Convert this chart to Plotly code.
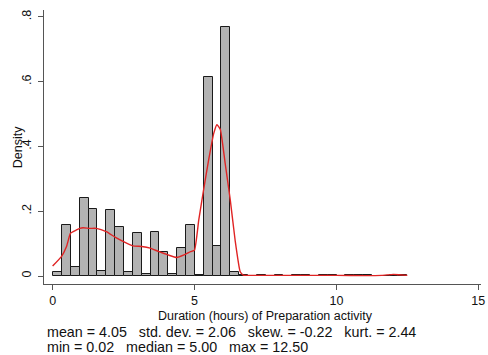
import plotly.graph_objects as go

# ---- data ----
bin_start = 0.02
bin_width = 0.312
density = [0.013, 0.156, 0.027, 0.240, 0.207, 0.016, 0.205, 0.151, 0.011, 0.132,
           0.006, 0.137, 0.075, 0.006, 0.087, 0.158, 0.002, 0.613, 0.094, 0.768,
           0.012, 0.002, 0.000, 0.002, 0.000, 0.002, 0.000, 0.002, 0.002, 0.000,
           0.002, 0.002, 0.000, 0.002, 0.002, 0.002, 0.000, 0.000, 0.002, 0.002]

kde_x = [0.0, 0.31, 0.49, 0.63, 0.84, 0.96, 1.07, 1.31, 1.54, 1.89, 2.2, 2.5, 2.82,
         3.14, 3.44, 3.75, 4.07, 4.37, 4.63, 4.86, 5.0, 5.15, 5.33, 5.5, 5.68, 5.79,
         5.91, 6.08, 6.26, 6.43, 6.61, 6.72, 7.0, 8.0, 9.0, 10.0, 11.0, 11.6, 12.0,
         12.2, 12.5]
kde_y = [0.031, 0.060, 0.091, 0.132, 0.142, 0.147, 0.149, 0.147, 0.147, 0.137, 0.120,
         0.106, 0.093, 0.091, 0.086, 0.075, 0.065, 0.057, 0.065, 0.075, 0.080, 0.173,
         0.271, 0.359, 0.441, 0.467, 0.452, 0.348, 0.235, 0.111, 0.013, 0.003, 0.002,
         0.002, 0.002, 0.002, 0.001, 0.002, 0.005, 0.004, 0.002]

x_ticks = [0, 5, 10, 15]
y_ticks = [0, 0.2, 0.4, 0.6, 0.8]
y_ticklabels = ["0", ".2", ".4", ".6", ".8"]

x_title = "Duration (hours) of Preparation activity"
y_title = "Density"
note_lines = ["mean = 4.05   std. dev. = 2.06   skew. = -0.22   kurt. = 2.44",
              "min = 0.02   median = 5.00   max = 12.50"]

# ---- figure ----
centers = [bin_start + bin_width * (i + 0.5) for i in range(len(density))]
FONT = "Liberation Sans, Arial, sans-serif"
W, H = 488, 355
L, R, T, B = 44, 3, 10, 71
pw, ph = W - L - R, H - T - B

fig = go.Figure()
fig.add_trace(go.Bar(x=centers, y=density, width=bin_width,
                     marker=dict(color="#b3b3b3", line=dict(color="#1a1a1a", width=1)),
                     hoverinfo="skip"))
fig.add_trace(go.Scatter(x=kde_x, y=kde_y, mode="lines",
                         line=dict(color="#e02424", width=1.4, shape="spline", smoothing=0.4),
                         hoverinfo="skip"))

def px_to_paper_x(p):
    return (p - L) / pw

def px_to_paper_y(p):
    return (H - B - p) / ph

annotations = [
    dict(text=x_title, x=px_to_paper_x(268), y=px_to_paper_y(316), xref="paper", yref="paper",
         xanchor="center", yanchor="middle", showarrow=False, font=dict(size=12.5, color="#111")),
    dict(text=y_title, x=px_to_paper_x(18), y=px_to_paper_y(147), xref="paper", yref="paper",
         xanchor="center", yanchor="middle", textangle=-90, showarrow=False,
         font=dict(size=12.5, color="#111")),
]
for i, line in enumerate(note_lines):
    annotations.append(dict(text=line, x=px_to_paper_x(45), y=px_to_paper_y(332 + 14.5 * i),
                            xref="paper", yref="paper", xanchor="left", yanchor="middle",
                            showarrow=False, font=dict(size=14.3, color="#111")))

fig.update_layout(
    width=W, height=H, margin=dict(l=L, r=R, t=T, b=B, pad=0),
    paper_bgcolor="white", plot_bgcolor="white", showlegend=False,
    bargap=0, font=dict(family=FONT, size=12, color="#111"),
    annotations=annotations,
    xaxis=dict(range=[-0.304, 15.096], tickvals=x_ticks, ticks="outside", ticklen=5,
               tickcolor="#555", showline=True, linecolor="#555", linewidth=1,
               showgrid=False, zeroline=False, ticklabeloverflow="allow",
               tickfont=dict(size=12.5, color="#111")),
    yaxis=dict(range=[-0.0247, 0.821], tickvals=y_ticks, ticktext=y_ticklabels,
               ticks="outside", ticklen=5, tickcolor="#555", showline=True,
               linecolor="#555", linewidth=1, showgrid=False, zeroline=False,
               tickangle=-90, ticklabelstandoff=2, tickfont=dict(size=12.5, color="#111")),
)

fig.write_html("out.html", config={"displayModeBar": False},
               post_script="document.body.style.margin='0';")
